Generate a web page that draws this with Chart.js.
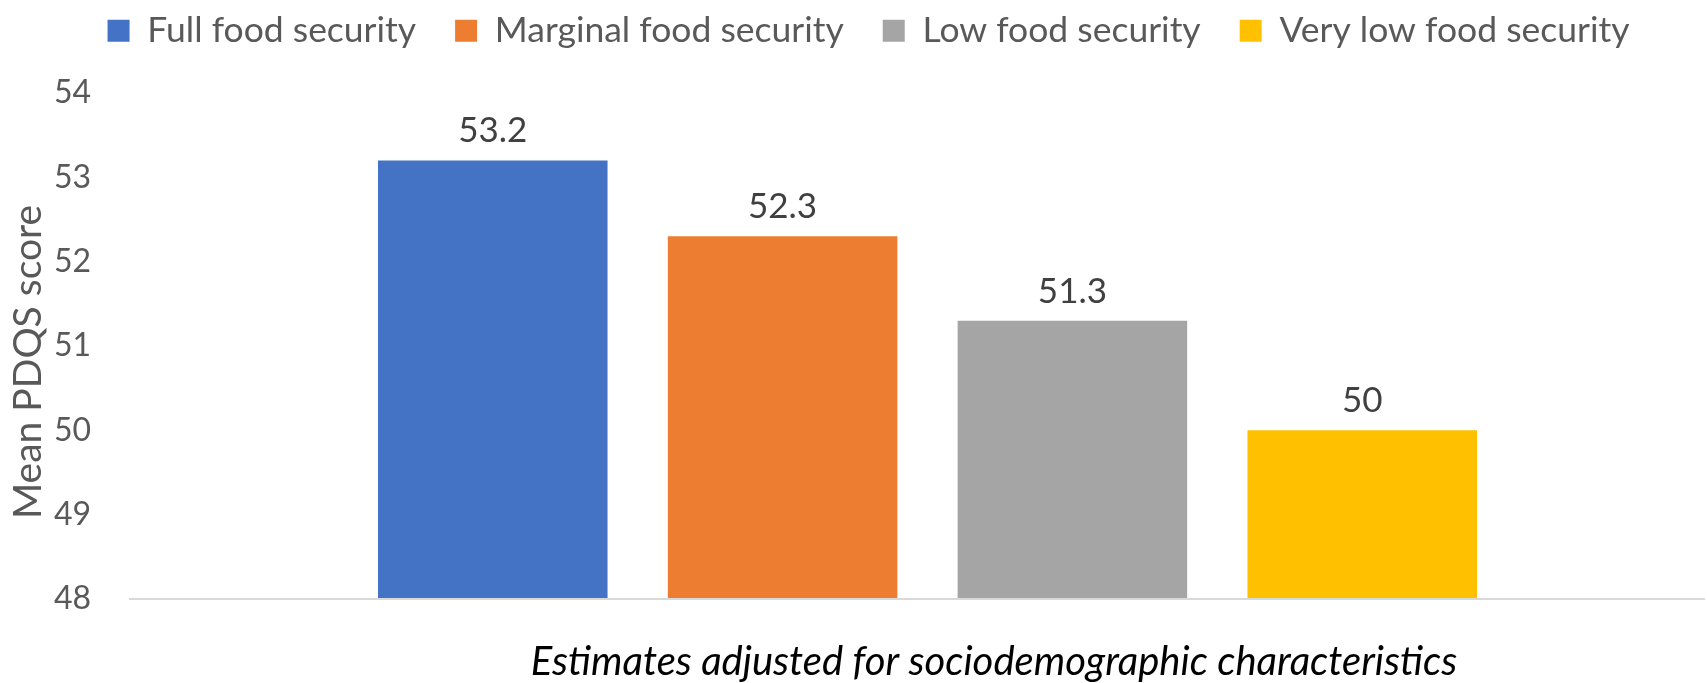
<!DOCTYPE html>
<html>
<head>
<meta charset="utf-8">
<script src="https://cdn.jsdelivr.net/npm/chart.js@4/dist/chart.umd.min.js"></script>
<style>
  html, body { margin: 0; padding: 0; background: #ffffff; }
  #wrap { width: 1707px; height: 683px; }
</style>
</head>
<body>
<div id="wrap"><canvas id="chart" width="1707" height="683"></canvas></div>
<script>
// Mean PDQS score by household food security status
const categories = ['Estimates adjusted for sociodemographic characteristics'];
const securityLevels = ['Full food security', 'Marginal food security', 'Low food security', 'Very low food security'];
const meanScores = [53.2, 52.3, 51.3, 50];
const levelColors = ['#4472C4', '#ED7D31', '#A5A5A5', '#FFC000'];
const yAxisTitle = 'Mean PDQS score';
const yMin = 48;
const yMax = 54;
const yStep = 1;

const FONT = 'Lato';

// value labels above each bar
const valueLabels = {
  id: 'valueLabels',
  afterDatasetsDraw(chart) {
    const ctx = chart.ctx;
    ctx.save();
    ctx.font = '35px ' + FONT;
    ctx.fillStyle = '#404040';
    ctx.textAlign = 'center';
    ctx.textBaseline = 'alphabetic';
    chart.data.datasets.forEach((ds, i) => {
      const meta = chart.getDatasetMeta(i);
      meta.data.forEach((bar, j) => {
        ctx.fillText(String(ds.data[j]), bar.x, bar.y - 18);
      });
    });
    ctx.restore();
  }
};

// horizontal category axis line, running a little left of the plot area
const baseLine = {
  id: 'baseLine',
  afterDatasetsDraw(chart) {
    const ctx = chart.ctx;
    const y = chart.scales.y.getPixelForValue(yMin);
    ctx.save();
    ctx.strokeStyle = '#D9D9D9';
    ctx.lineWidth = 2;
    ctx.beginPath();
    ctx.moveTo(chart.chartArea.left - 19, y);
    ctx.lineTo(chart.chartArea.right - 2, y);
    ctx.stroke();
    ctx.restore();
  }
};

// axis titles, placed freely like the original layout
const axisTitles = {
  id: 'axisTitles',
  afterDraw(chart) {
    const ctx = chart.ctx;
    ctx.save();
    ctx.textAlign = 'center';
    ctx.textBaseline = 'middle';
    // category axis title
    ctx.font = 'italic 40px ' + FONT;
    ctx.fillStyle = '#000000';
    ctx.fillText(categories[0], 994, 662);
    // value axis title
    ctx.translate(28, 362);
    ctx.rotate(-Math.PI / 2);
    ctx.font = '39px ' + FONT;
    ctx.fillStyle = '#595959';
    ctx.fillText(yAxisTitle, 0, 0);
    ctx.restore();
  }
};

// fixed legend band height
const legendBand = {
  id: 'legendBand',
  beforeLayout(chart) {
    const lg = chart.legend;
    if (lg && !lg._bandFixed) {
      const fit = lg.fit;
      lg.fit = function () { fit.call(this); this.height = 119; };
      lg._bandFixed = true;
    }
  }
};

new Chart(document.getElementById('chart'), {
  type: 'bar',
  data: {
    labels: categories,
    datasets: securityLevels.map((name, i) => ({
      label: name,
      data: [meanScores[i]],
      backgroundColor: levelColors[i],
      borderWidth: 0,
      barPercentage: 0.792,
      categoryPercentage: 0.7436
    }))
  },
  options: {
    responsive: false,
    animation: false,
    devicePixelRatio: 1,
    layout: { padding: { top: -26, left: 30, right: 0, bottom: 0 } },
    plugins: {
      legend: {
        position: 'top',
        align: 'center',
        labels: {
          boxWidth: 22,
          boxHeight: 22,
          padding: 39,
          color: '#595959',
          font: { family: FONT, size: 35.5 }
        }
      },
      tooltip: { enabled: false }
    },
    scales: {
      x: {
        type: 'category',
        grid: { display: false, drawTicks: false },
        border: { display: false },
        ticks: { display: false },
        afterFit(scale) { scale.height = 84; }
      },
      y: {
        min: yMin,
        max: yMax,
        grid: { display: false, drawTicks: false },
        border: { display: false },
        ticks: {
          stepSize: yStep,
          padding: 57,
          color: '#595959',
          font: { family: FONT, size: 32 }
        },
        afterFit(scale) { scale.width = 118; }
      }
    }
  },
  plugins: [valueLabels, baseLine, axisTitles, legendBand]
});
</script>
</body>
</html>
